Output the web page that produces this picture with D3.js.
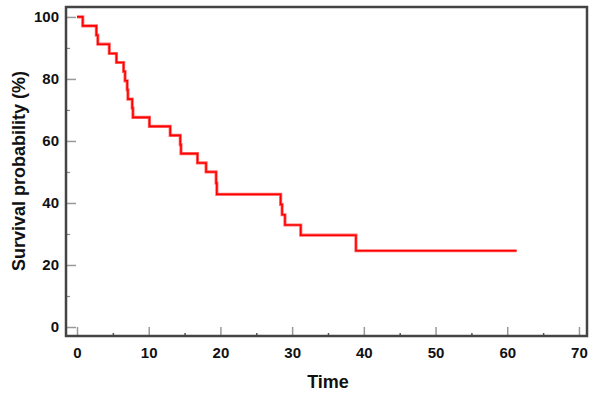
<!DOCTYPE html>
<html><head><meta charset="utf-8">
<script src="https://cdn.jsdelivr.net/npm/d3@7"></script>
<style>body{margin:0;background:#fff}svg{display:block}text{font-family:"Liberation Sans",Arial,sans-serif;font-weight:bold}</style>
</head><body><svg id="c" width="600" height="393"></svg>
<script>
// Kaplan–Meier step data: event times and survival (%) after each step
const stepTimes = [0, 0.8, 2.7, 2.9, 4.5, 5.5, 6.5, 6.7, 7.0, 7.1, 7.7, 7.8, 10.1, 13.0, 14.4, 14.5, 16.8, 18.0, 19.4, 19.5, 28.4, 28.6, 29.0, 31.2, 38.9];
const stepSurv  = [100, 97.1, 94.1, 91.2, 88.2, 85.3, 82.4, 79.4, 76.5, 73.5, 70.6, 67.6, 64.7, 61.8, 58.8, 55.9, 52.9, 50.0, 46.4, 42.8, 39.5, 36.2, 32.9, 29.6, 24.6];
const lastTime = 61.3;
const xTicks = [0, 10, 20, 30, 40, 50, 60, 70];
const xMinor = [5, 15, 25, 35, 45, 55, 65];
const yTicks = [0, 20, 40, 60, 80, 100];
const yMinor = [10, 30, 50, 70, 90];

const svg = d3.select("#c");
const L = 66, R = 587, T = 7, B = 336;
const x = d3.scaleLinear().domain([-1.534, 71.12]).range([L, R]);
const y = d3.scaleLinear().domain([-2.9, 103.2]).range([B, T]);

// minor ticks
svg.append("g").attr("transform", `translate(0,${B})`)
  .call(d3.axisBottom(x).tickValues(xMinor).tickSizeInner(-3).tickSizeOuter(0).tickFormat(""))
  .call(g => g.select(".domain").remove())
  .call(g => g.selectAll("line").attr("stroke", "#555").attr("stroke-width", 1.5));
svg.append("g").attr("transform", `translate(${L},0)`)
  .call(d3.axisLeft(y).tickValues(yMinor).tickSizeInner(-4).tickSizeOuter(0).tickFormat(""))
  .call(g => g.select(".domain").remove())
  .call(g => g.selectAll("line").attr("stroke", "#888").attr("stroke-width", 1.2));

// major ticks
svg.append("g").attr("transform", `translate(0,${B})`)
  .call(d3.axisBottom(x).tickValues(xTicks).tickSizeInner(-9).tickSizeOuter(0).tickPadding(11))
  .call(g => g.select(".domain").remove())
  .call(g => g.selectAll("line").attr("stroke", "#999").attr("stroke-width", 1.5))
  .call(g => g.selectAll("text").attr("fill", "#111").style("font-size", "15px"));
svg.append("g").attr("transform", `translate(${L},0)`)
  .call(d3.axisLeft(y).tickValues(yTicks).tickSizeInner(-10).tickSizeOuter(0).tickPadding(7))
  .call(g => g.select(".domain").remove())
  .call(g => g.selectAll("line").attr("stroke", "#999").attr("stroke-width", 1.5))
  .call(g => g.selectAll("text").attr("fill", "#111").style("font-size", "15px"));

// frame
svg.append("rect").attr("x", L).attr("y", T).attr("width", R - L).attr("height", B - T)
  .attr("fill", "none").attr("stroke", "#444").attr("stroke-width", 2.5);

// KM curve
const pts = stepTimes.map((t, i) => [t, stepSurv[i]]);
pts.push([lastTime, stepSurv[stepSurv.length - 1]]);
const line = d3.line().x(d => x(d[0])).y(d => y(d[1])).curve(d3.curveStepAfter);
svg.append("path").datum(pts).attr("d", line)
  .attr("fill", "none").attr("stroke", "#ff7070").attr("stroke-width", 3.2).attr("stroke-linejoin", "miter");
svg.append("path").datum(pts).attr("d", line)
  .attr("fill", "none").attr("stroke", "#f00").attr("stroke-width", 1.6);

// axis titles
svg.append("text").attr("x", (x(0) + x(70)) / 2).attr("y", 388).attr("text-anchor", "middle")
  .style("font-size", "18px").attr("fill", "#111").text("Time");
svg.append("text").attr("transform", `translate(25,171) rotate(-90)`).attr("text-anchor", "middle")
  .style("font-size", "18px").attr("fill", "#111").text("Survival probability (%)");
</script></body></html>
